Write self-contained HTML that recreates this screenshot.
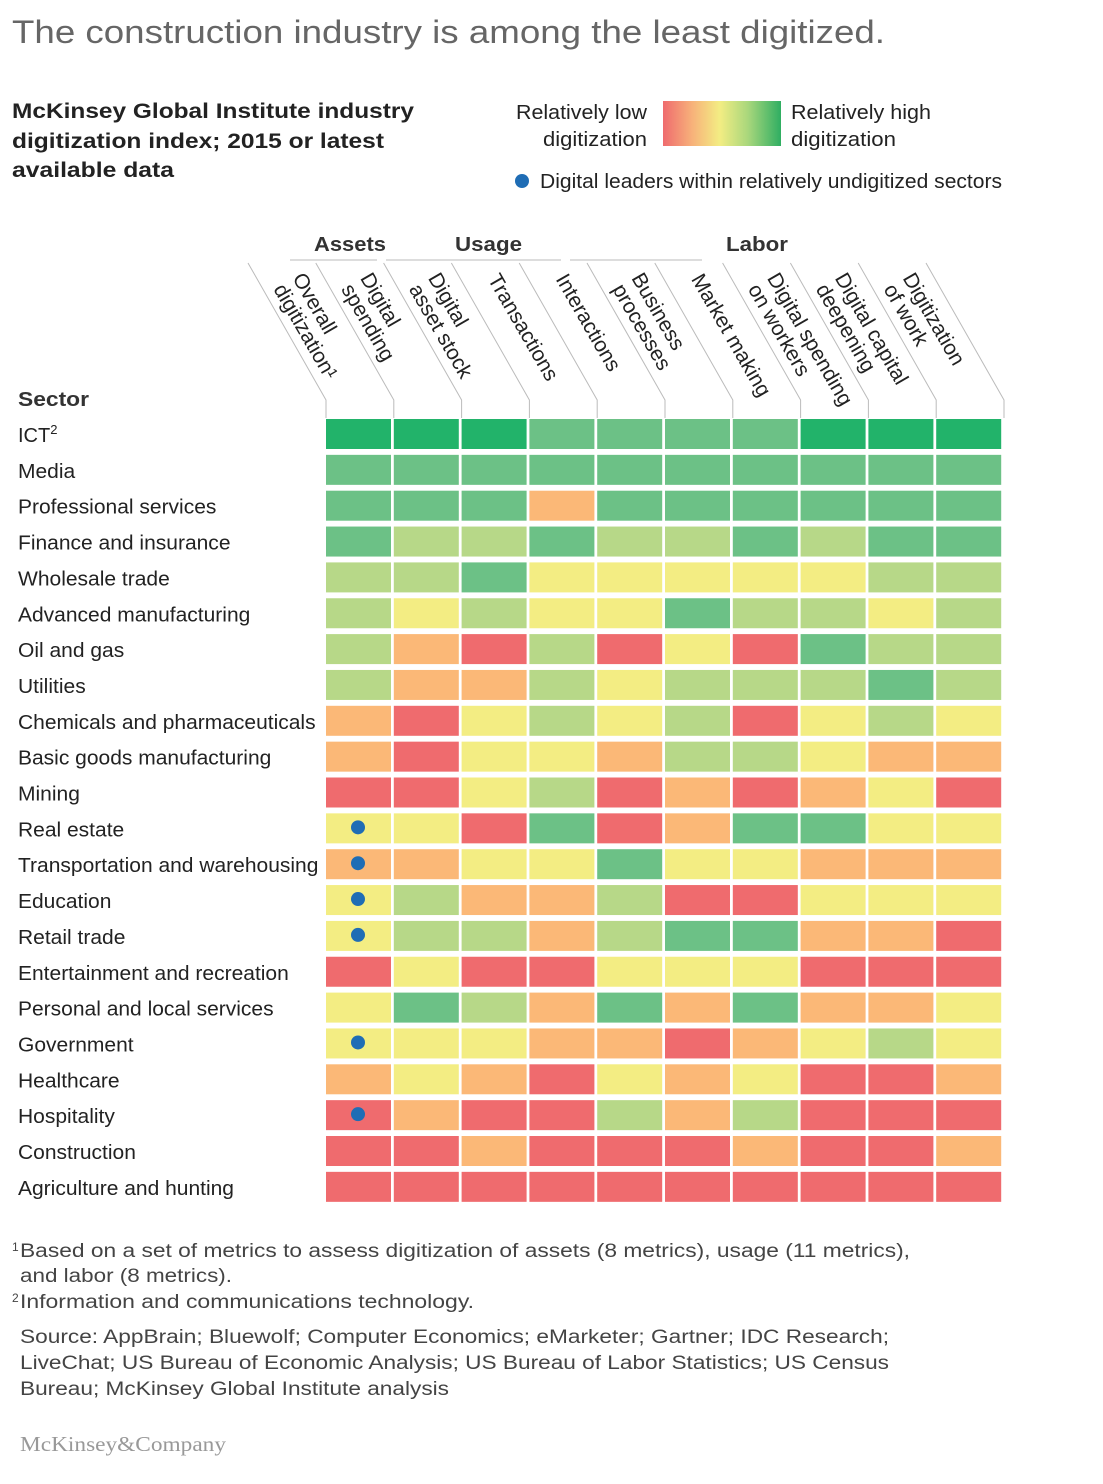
<!DOCTYPE html>
<html><head><meta charset="utf-8"><style>
body{margin:0;background:#fff;width:1103px;height:1479px;overflow:hidden;font-family:"Liberation Sans",sans-serif;}
svg text{font-family:"Liberation Sans",sans-serif;}
</style></head><body>
<svg id="chart" width="1103" height="1479" xmlns="http://www.w3.org/2000/svg">
<text x="12" y="43" font-size="32" fill="#666" textLength="873" lengthAdjust="spacingAndGlyphs">The construction industry is among the least digitized.</text>
<g font-size="21" font-weight="bold" fill="#222">
<text x="12" y="118" textLength="402" lengthAdjust="spacingAndGlyphs">McKinsey Global Institute industry</text>
<text x="12" y="148" textLength="372" lengthAdjust="spacingAndGlyphs">digitization index; 2015 or latest</text>
<text x="12" y="177" textLength="162" lengthAdjust="spacingAndGlyphs">available data</text></g>
<defs><linearGradient id="lg" x1="0" x2="1" y1="0" y2="0"><stop offset="0" stop-color="#ef6b6e"/><stop offset="0.25" stop-color="#f7b27a"/><stop offset="0.48" stop-color="#f3ed83"/><stop offset="0.72" stop-color="#a9d77c"/><stop offset="1" stop-color="#2fae62"/></linearGradient></defs>
<g font-size="20" fill="#222">
<text x="516" y="119" textLength="131" lengthAdjust="spacingAndGlyphs">Relatively low</text>
<text x="543" y="146" textLength="104" lengthAdjust="spacingAndGlyphs">digitization</text>
<rect x="663" y="101" width="118" height="45" fill="url(#lg)"/>
<text x="791" y="119" textLength="140" lengthAdjust="spacingAndGlyphs">Relatively high</text>
<text x="791" y="146" textLength="105" lengthAdjust="spacingAndGlyphs">digitization</text>
<circle cx="522" cy="181" r="7" fill="#1f6db5"/>
<text x="540" y="188" textLength="462" lengthAdjust="spacingAndGlyphs">Digital leaders within relatively undigitized sectors</text>
</g>
<g font-size="20" font-weight="bold" fill="#333">
<text x="314" y="251" textLength="72" lengthAdjust="spacingAndGlyphs">Assets</text><line x1="290" y1="260" x2="377" y2="260" stroke="#bbb"/>
<text x="455" y="251" textLength="67" lengthAdjust="spacingAndGlyphs">Usage</text><line x1="386" y1="260" x2="561" y2="260" stroke="#bbb"/>
<text x="726" y="251" textLength="62" lengthAdjust="spacingAndGlyphs">Labor</text><line x1="570" y1="260" x2="702" y2="260" stroke="#bbb"/>
</g>
<text x="18" y="406" font-size="20" font-weight="bold" fill="#333" textLength="71" lengthAdjust="spacingAndGlyphs">Sector</text>
<g id="heads"></g><g id="rows"></g><g id="cells"></g>
<g font-size="19" fill="#444">
<text x="12" y="1251" font-size="12">1</text>
<text x="20" y="1257" textLength="890" lengthAdjust="spacingAndGlyphs">Based on a set of metrics to assess digitization of assets (8 metrics), usage (11 metrics),</text>
<text x="20" y="1282" textLength="212" lengthAdjust="spacingAndGlyphs">and labor (8 metrics).</text>
<text x="12" y="1302" font-size="12">2</text>
<text x="20" y="1308" textLength="454" lengthAdjust="spacingAndGlyphs">Information and communications technology.</text>
<text x="20" y="1343" textLength="869" lengthAdjust="spacingAndGlyphs">Source: AppBrain; Bluewolf; Computer Economics; eMarketer; Gartner; IDC Research;</text>
<text x="20" y="1369" textLength="869" lengthAdjust="spacingAndGlyphs">LiveChat; US Bureau of Economic Analysis; US Bureau of Labor Statistics; US Census</text>
<text x="20" y="1395" textLength="429" lengthAdjust="spacingAndGlyphs">Bureau; McKinsey Global Institute analysis</text>
</g>
<text x="20" y="1451" font-size="21" fill="#999" style="font-family:'Liberation Serif',serif" textLength="206" lengthAdjust="spacingAndGlyphs">McKinsey&amp;Company</text>
</svg>
<script>
const sectors=["ICT²","Media","Professional services","Finance and insurance","Wholesale trade","Advanced manufacturing","Oil and gas","Utilities","Chemicals and pharmaceuticals","Basic goods manufacturing","Mining","Real estate","Transportation and warehousing","Education","Retail trade","Entertainment and recreation","Personal and local services","Government","Healthcare","Hospitality","Construction","Agriculture and hunting"];
const metrics=[["Overall","digitization¹"],["Digital","spending"],["Digital","asset stock"],["Transactions"],["Interactions"],["Business","processes"],["Market making"],["Digital spending","on workers"],["Digital capital","deepening"],["Digitization","of work"]];
const levels=[[5,5,5,4,4,4,4,5,5,5],[4,4,4,4,4,4,4,4,4,4],[4,4,4,1,4,4,4,4,4,4],[4,3,3,4,3,3,4,3,4,4],[3,3,4,2,2,2,2,2,3,3],[3,2,3,2,2,4,3,3,2,3],[3,1,0,3,0,2,0,4,3,3],[3,1,1,3,2,3,3,3,4,3],[1,0,2,3,2,3,0,2,3,2],[1,0,2,2,1,3,3,2,1,1],[0,0,2,3,0,1,0,1,2,0],[2,2,0,4,0,1,4,4,2,2],[1,1,2,2,4,2,2,1,1,1],[2,3,1,1,3,0,0,2,2,2],[2,3,3,1,3,4,4,1,1,0],[0,2,0,0,2,2,2,0,0,0],[2,4,3,1,4,1,4,1,1,2],[2,2,2,1,1,0,1,2,3,2],[1,2,1,0,2,1,2,0,0,1],[0,1,0,0,3,1,3,0,0,0],[0,0,1,0,0,0,1,0,0,1],[0,0,0,0,0,0,0,0,0,0]];
const leaders=[0,0,0,0,0,0,0,0,0,0,0,1,1,1,1,0,0,1,0,1,0,0];
const palette=["#ef6b6e","#fbb877","#f3ed83","#b7d888","#6cc186","#22b36a"];
const NS="http://www.w3.org/2000/svg";
const x0=326,colStep=67.8,y0=419,rowStep=35.85,cw=65,ch=30;
const xs=i=>x0+i*colStep, ys=j=>y0+j*rowStep;
function mk(t,a,p){const e=document.createElementNS(NS,t);for(const k in a)e.setAttribute(k,a[k]);p.appendChild(e);return e;}
const heads=document.getElementById('heads'),rows=document.getElementById('rows'),cells=document.getElementById('cells');
for(let i=0;i<=metrics.length;i++){const x=xs(i);
 const p=mk('polyline',{points:`${x},418 ${x},400 ${x-78},263`,fill:'none',stroke:'#bbb','stroke-width':1},heads);
 
 }
metrics.forEach((m,i)=>{const x=xs(i);
 const sx=m.length>1?x-34:x-42, sy=m.length>1?278:279;
 const t=mk('text',{x:0,y:0,'font-size':21,fill:'#222',transform:`translate(${sx},${sy}) rotate(60)`},heads);
 
 
 m.forEach((l,k)=>{const ts=mk('tspan',{x:0,dy:k?22:0},t);ts.textContent=l;});});
sectors.forEach((s,j)=>{
 const t=mk('text',{x:18,y:ys(j)+23,'font-size':20,fill:'#222'},rows);
 
 
 if(s.endsWith('²')){t.textContent='ICT';const sp=mk('tspan',{'font-size':13,dy:-8},t);sp.textContent='2';}
 else{t.textContent=s;const w=t.getComputedTextLength();t.setAttribute('textLength',(w*1.05).toFixed(1));t.setAttribute('lengthAdjust','spacingAndGlyphs');}
 levels[j].forEach((v,i)=>{
  const r=mk('rect',{x:xs(i),y:ys(j),width:cw,height:ch,fill:palette[v]},cells);
  
  });
 if(leaders[j]){const c=mk('circle',{cx:xs(0)+32,cy:ys(j)+14,r:7,fill:'#1f6db5'},cells);
  
  }
});
</script>
</body></html>
